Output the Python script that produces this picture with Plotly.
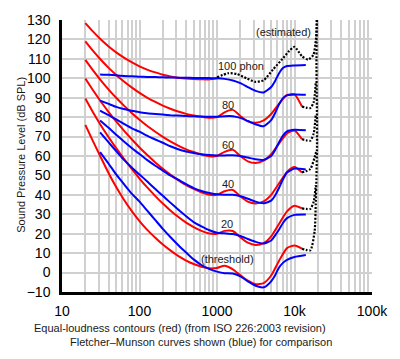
import plotly.graph_objects as go

# ---------------- data ----------------
# ISO 226:2003 frequencies (Hz)
freq_iso = [20, 25, 31.5, 40, 50, 63, 80, 100, 125, 160, 200, 250, 315, 400, 500,
            630, 800, 1000, 1250, 1600, 2000, 2500, 3150, 4000, 5000, 6300, 8000,
            10000, 12500]

# red: equal-loudness contours (dB SPL)
red_threshold = [76.0, 67.8, 59.5, 51.1, 44.0, 37.5, 31.5, 26.5, 22.1, 17.9, 14.4, 11.4,
                 8.6, 6.2, 4.4, 3.0, 2.2, 2.4, 3.5, 1.7, -1.3, -4.2, -6.0, -5.4, -1.5,
                 6.0, 12.6, 13.9, 12.3]
red_20 = [89.58, 82.65, 75.98, 69.62, 64.02, 58.55, 53.19, 48.38, 43.94, 39.37, 35.51,
          31.99, 28.69, 25.67, 23.43, 21.48, 20.10, 20.01, 21.46, 21.40, 18.15, 15.38,
          14.25, 15.14, 18.63, 25.02, 31.52, 34.43, 33.04]
red_40 = [99.85, 93.94, 88.17, 82.63, 77.78, 73.08, 68.48, 64.37, 60.59, 56.70, 53.41,
          50.40, 47.58, 44.98, 43.05, 41.34, 40.06, 40.01, 41.82, 42.51, 39.23, 36.51,
          35.61, 36.65, 40.01, 45.83, 51.80, 54.28, 51.49]
red_60 = [109.51, 104.23, 99.08, 94.18, 89.96, 85.94, 82.05, 78.65, 75.56, 72.47, 69.86,
          67.53, 65.39, 63.45, 62.05, 60.81, 59.89, 60.01, 62.15, 63.19, 59.96, 57.26,
          56.42, 57.57, 60.89, 66.36, 71.66, 73.16, 68.63]
red_80 = [118.99, 114.23, 109.65, 105.34, 101.72, 98.36, 95.17, 92.48, 90.09, 87.82,
          85.92, 84.31, 82.89, 81.68, 80.86, 80.17, 79.67, 80.01, 82.48, 83.74, 80.59,
          77.88, 77.07, 78.31, 81.62, 86.81, 91.41, 91.74, 85.41]
red_100 = [128.41, 124.15, 120.11, 116.38, 113.35, 110.65, 108.16, 106.17, 104.48,
           103.03, 101.85, 100.97, 100.30, 99.83, 99.62, 99.50, 99.44, 100.01]

# blue: Fletcher-Munson curves (dB SPL)
freq_fm = [31, 40, 50, 63, 80, 100, 125, 160, 200, 250, 315, 400, 500, 630, 800, 1000,
           1250, 1600, 2000, 2500, 3150, 4000, 5000, 5600, 6300, 7100, 8000, 10000, 14000]
blue_100 = [102.0, 101.8, 101.5, 101.2, 101.0, 100.8, 100.7, 100.6, 100.5, 100.4, 100.3,
            100.3, 100.2, 100.2, 100.1, 100.0, 99.7, 98.9, 97.5, 95.5, 93.5, 92.7, 95.5,
            98.5, 102.5, 105.3, 106.3, 106.6, 106.8]
blue_80 = [88.5, 86.8, 85.3, 84.2, 83.3, 82.5, 82.0, 81.6, 81.3, 81.0, 80.8, 80.6, 80.4,
           80.3, 80.2, 80.2, 80.5, 80.5, 79.6, 78.0, 76.3, 75.3, 78.5, 82.0, 86.5, 89.8,
           91.2, 91.7, 91.5]
blue_60 = [83.4, 81.0, 78.8, 76.5, 74.2, 72.5, 70.5, 68.5, 66.8, 65.0, 63.5, 62.3, 61.5,
           60.9, 60.5, 60.3, 60.3, 60.4, 60.0, 59.2, 58.3, 58.0, 60.0, 63.0, 67.0, 70.5,
           72.7, 73.5, 73.2]
blue_40 = [78.3, 74.5, 71.0, 67.5, 64.0, 61.0, 58.0, 55.0, 52.5, 50.0, 47.8, 45.5, 43.5,
           42.0, 41.0, 40.3, 40.1, 40.0, 39.3, 38.0, 36.5, 35.7, 37.0, 39.5, 43.5, 48.0,
           51.5, 53.5, 53.0]
blue_20 = [72.2, 67.0, 62.5, 58.0, 54.0, 50.5, 47.0, 43.0, 39.5, 36.0, 32.5, 29.0, 26.0,
           23.8, 21.8, 20.5, 20.2, 19.8, 18.8, 17.3, 15.8, 15.0, 16.5, 19.0, 22.0, 25.5,
           28.0, 29.7, 29.9]
blue_threshold = [62.0, 56.0, 50.5, 45.5, 40.5, 36.5, 32.0, 27.0, 22.5, 18.3, 14.2, 10.3,
                  6.8, 3.9, 1.8, 0.5, -0.3, -0.5, -2.0, -4.5, -6.8, -7.6, -4.5, -1.5,
                  2.5, 5.0, 6.5, 8.0, 9.0]

# black dotted: estimated parts
est_100_f = [1000, 1400, 1800, 2400, 3100, 4000, 5300, 7000, 8500, 10000, 12500, 15000,
             17500, 19000, 19500]
est_100_db = [100.5, 102.6, 102.2, 100.0, 98.2, 99.0, 104.6, 110.0, 114.0, 116.2, 111.3,
              109.6, 112.0, 121.0, 131.0]
est_main_f = [12500, 16000, 18200, 18800, 19200, 19500, 19500, 19300, 19200, 19400]
est_main_db = [12.3, 11.5, 21.5, 35.0, 50.0, 65.0, 80.0, 95.0, 110.0, 131.0]
est_80_f = [12500, 16000, 17700, 18800]
est_80_db = [85.41, 84.7, 87.7, 97.8]
est_60_f = [12500, 16000, 17700, 18800]
est_60_db = [68.63, 67.9, 71.7, 81.0]
est_40_f = [12500, 16000, 18200, 19000]
est_40_db = [51.49, 53.3, 59.3, 62.0]
est_20_f = [12500, 16000, 17700, 18800]
est_20_db = [33.04, 32.8, 36.5, 45.0]

x_tick_vals = [10, 100, 1000, 10000, 100000]
x_tick_text = ["10", "100", "1000", "10k", "100k"]
x_minor_vals = [m * d for d in (10, 100, 1000, 10000) for m in range(2, 10)]

FONT = "Liberation Sans, Arial, Helvetica, sans-serif"
RED = "#ff0000"
BLUE = "#0000ff"
GRID = "#d0d0d0"

fig = go.Figure()

for vals in [red_threshold, red_20, red_40, red_60, red_80, red_100]:
    fig.add_trace(go.Scatter(x=freq_iso[:len(vals)], y=vals, mode="lines",
                             line=dict(color=RED, width=2, shape="spline", smoothing=0.6),
                             showlegend=False, hoverinfo="skip"))

for vals in [blue_threshold, blue_20, blue_40, blue_60, blue_80, blue_100]:
    fig.add_trace(go.Scatter(x=freq_fm, y=vals, mode="lines",
                             line=dict(color=BLUE, width=2, shape="spline", smoothing=0.6),
                             showlegend=False, hoverinfo="skip"))

for fx, fy in [(est_100_f, est_100_db), (est_main_f, est_main_db), (est_80_f, est_80_db),
               (est_60_f, est_60_db), (est_40_f, est_40_db), (est_20_f, est_20_db)]:
    fig.add_trace(go.Scatter(x=fx, y=fy, mode="lines",
                             line=dict(color="black", width=2.2, dash="2px,1.6px",
                                       shape="spline", smoothing=0.6),
                             showlegend=False, hoverinfo="skip"))

ann_font = dict(family=FONT, size=11, color="#1a1a1a")
labels = [
    ("(estimated)", 3.86, 124.0),
    ("100 phon", 3.31, 106.5),
    ("80", 3.1375, 86.0),
    ("60", 3.1375, 65.8),
    ("40", 3.1375, 45.6),
    ("20", 3.125, 24.8),
    ("(threshold)", 3.1375, 7.2),
]
annotations = [dict(text=t, x=x, y=y, xref="x", yref="y", showarrow=False,
                    font=ann_font, xanchor="center", yanchor="middle")
               for t, x, y in labels]
annotations += [
    dict(text="Sound Pressure Level (dB SPL)", xref="paper", yref="paper",
         x=-0.135, y=0.505, textangle=-90, showarrow=False,
         font=dict(family=FONT, size=11, color="#1a1a1a"),
         xanchor="center", yanchor="middle"),
    dict(text="Equal-loudness contours (red) (from ISO 226:2003 revision)",
         xref="paper", yref="paper", x=0.381, y=-0.134, showarrow=False,
         font=dict(family=FONT, size=11, color="#1a1a1a"),
         xanchor="center", yanchor="middle"),
    dict(text="Fletcher\u2013Munson curves shown (blue) for comparison",
         xref="paper", yref="paper", x=0.447, y=-0.184, showarrow=False,
         font=dict(family=FONT, size=11, color="#1a1a1a"),
         xanchor="center", yanchor="middle"),
]

fig.update_layout(
    width=400, height=359,
    margin=dict(l=62, r=19, t=15, b=67, pad=0),
    paper_bgcolor="white", plot_bgcolor="white",
    font=dict(family=FONT, color="#000000"),
    annotations=annotations,
    xaxis=dict(type="log", range=[1, 5], tickmode="array", tickvals=x_tick_vals,
               ticktext=x_tick_text, showgrid=True, gridcolor=GRID, gridwidth=1.8,
               minor=dict(tickvals=x_minor_vals, showgrid=True, gridcolor=GRID,
                          gridwidth=1.8, ticks=""),
               showline=True, linecolor="black", linewidth=2.5,
               ticks="outside", ticklen=4, tickcolor="rgba(0,0,0,0)",
               tickfont=dict(family=FONT, size=14, color="#000"), zeroline=False),
    yaxis=dict(range=[-10, 130], tick0=0, dtick=10, showgrid=True, gridcolor=GRID,
               gridwidth=1.8, showline=True, linecolor="black", linewidth=2.5,
               ticks="outside", ticklen=6, tickcolor="rgba(0,0,0,0)",
               tickfont=dict(family=FONT, size=14, color="#000"), zeroline=False),
)

fig.write_html("out.html", config={"displayModeBar": False},
               post_script="document.body.style.margin='0px';document.body.style.padding='0px';")
